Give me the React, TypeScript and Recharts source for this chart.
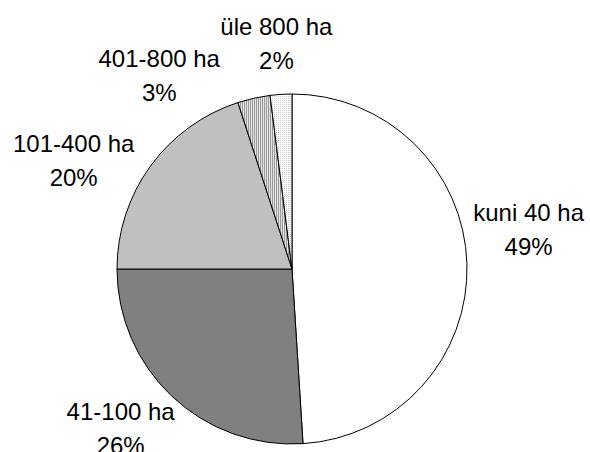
import { Cell, Pie, PieChart } from 'recharts';

const categories = ['kuni 40 ha', '41-100 ha', '101-400 ha', '401-800 ha', 'üle 800 ha'];
const shares = [49, 26, 20, 3, 2];

const fills = ['#ffffff', '#808080', '#c0c0c0', 'url(#stripes)', 'url(#dots)'];
// label nudges from the default anchor (outer radius * 1.33 along mid angle)
const labelNudge: [number, number][] = [
  [4, -32],
  [-12, -10],
  [-30, 29],
  [-82, 34],
  [-1, 7],
];

const data = categories.map((name, i) => ({ name, value: shares[i] }));

const RAD = Math.PI / 180;

function renderLabel(props: any) {
  const { cx, cy, midAngle, outerRadius, index, name, value } = props;
  const r = outerRadius * 1.33;
  const [dx, dy] = labelNudge[index];
  const x = cx + r * Math.cos(-midAngle * RAD) + dx;
  const y = cy + r * Math.sin(-midAngle * RAD) + dy;
  return (
    <text
      x={x}
      y={y}
      textAnchor="middle"
      fill="#000"
      fontFamily="'Liberation Sans', Arial, sans-serif"
      fontSize={24}
    >
      <tspan x={x} y={y - 9}>{name}</tspan>
      <tspan x={x} y={y + 25}>{`${value}%`}</tspan>
    </text>
  );
}

export default function App() {
  return (
    <div style={{ position: 'absolute', left: 0, top: 0, width: 590, height: 452, background: '#fff' }}>
      <PieChart width={590} height={452} margin={{ top: 0, right: 0, bottom: 0, left: 0 }}>
        <defs>
          <pattern id="stripes" width="2" height="2" patternUnits="userSpaceOnUse">
            <rect width="2" height="2" fill="#e4e4e4" />
            <rect width="1" height="2" fill="#9a9a9a" />
          </pattern>
          <pattern id="dots" width="2" height="2" patternUnits="userSpaceOnUse">
            <rect width="2" height="2" fill="#ffffff" />
            <rect width="1" height="1" fill="#c8c8c8" />
          </pattern>
        </defs>
        <Pie
          data={data}
          dataKey="value"
          nameKey="name"
          cx={292}
          cy={269}
          outerRadius={175}
          startAngle={90}
          endAngle={-270}
          stroke="#000"
          strokeWidth={1}
          label={renderLabel}
          labelLine={false}
          isAnimationActive={false}
        >
          {data.map((d, i) => (
            <Cell key={d.name} fill={fills[i]} />
          ))}
        </Pie>
      </PieChart>
    </div>
  );
}
